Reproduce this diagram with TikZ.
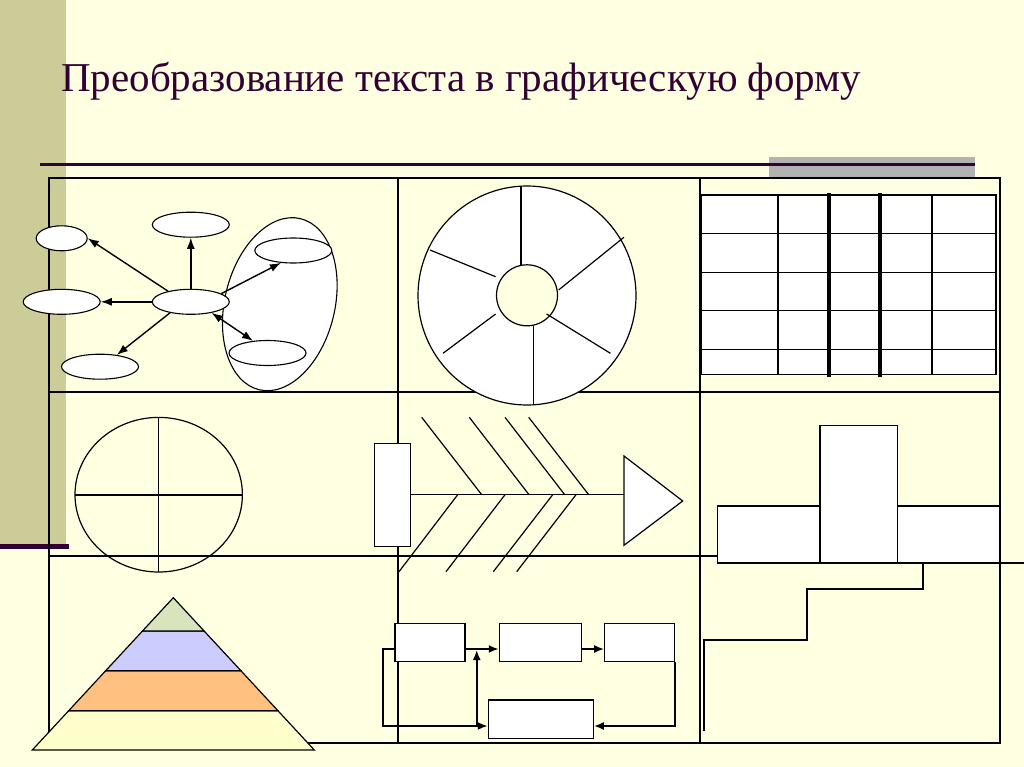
\documentclass[tikz,border=0pt]{standalone}
\usepackage{fontspec}
\setmainfont{Liberation Serif}
\usetikzlibrary{shapes.geometric,arrows.meta,positioning}
\definecolor{slidebg}{HTML}{FFFFE1}
\definecolor{bandcol}{HTML}{CCCC99}
\definecolor{darkplum}{HTML}{330033}
\definecolor{greybar}{HTML}{B2B2B2}
\definecolor{pyrtop}{HTML}{D7E4BD}
\definecolor{pyrmid}{HTML}{CCCCFF}
\definecolor{pyrlow}{HTML}{FFC080}
\definecolor{pyrbase}{HTML}{FFFFCC}

\begin{document}
\begin{tikzpicture}[x=1pt,y=-1pt,
   bubble/.style={ellipse,draw,fill=white,inner sep=0pt,minimum width=77pt,minimum height=25pt,line width=1.1pt},
   blk/.style={rectangle,draw,fill=white,inner sep=0pt,line width=1.1pt},
   cell/.style={line width=1.3pt},
   arr/.style={-{Latex[length=11pt,width=8pt]},line width=1.4pt},
   arrs/.style={{Latex[length=11pt,width=8pt]}-{Latex[length=11pt,width=8pt]},line width=1.4pt},
   flow/.style={-{Latex[length=10pt,width=8pt]},line width=1.8pt}]
   \useasboundingbox (0,0) rectangle (1024,767);
   % slide background
   \fill[slidebg] (0,0) rectangle (1024,767);
   \fill[bandcol] (0,0) rectangle (66,546);
   \fill[darkplum] (0,544) rectangle (69,549);
   \fill[greybar] (769,157) rectangle (975,178);
   \draw[darkplum,line width=3pt] (40,165) -- (975,165);
   \node[anchor=base west,text=darkplum,inner sep=0pt,font=\fontsize{41}{46}\selectfont] (title) at (61,92) {Преобразование текста в графическую форму};
   % frame and grid
   \draw[line width=1.8pt] (49,178) rectangle (1000,743);
   \draw[cell] (398,178) -- (398,743) (700,178) -- (700,743)
               (49,392) -- (1000,392) (49,556) -- (1000,556);
   % mind map
   \draw[fill=white,line width=1.1pt,rotate around={-13.6:(279.8,304.2)}] (279.8,304.2) ellipse [x radius=55, y radius=88];
   \node[bubble,minimum width=51pt] (m1) at (61.7,238.3) {};
   \node[bubble] (m2) at (190.8,224.7) {};
   \node[bubble] (m3) at (61.7,301.8) {};
   \node[bubble] (m0) at (190.8,301.8) {};
   \node[bubble] (m4) at (100,366.7) {};
   \node[bubble] (m5) at (293.3,250.5) {};
   \node[bubble] (m6) at (267.5,353) {};
   \draw[arr] (m0.155) -- (m1.east);
   \draw[arr] (m0.north) -- (m2.south);
   \draw[arr] (m0.west) -- (m3.east);
   \draw[arr] (m0.208) -- (m4.35);
   \draw[arr] (m0.15) -- (m5.225);
   \draw[arrs] (m0.332) -- (m6.140);
   % wheel
   \draw[fill=white,line width=1.2pt] (527,295.5) ellipse [x radius=109, y radius=109.5];
   \draw[fill=slidebg,line width=1.2pt] (527,295.3) circle [radius=30.5];
   \foreach \xa/\ya/\xb/\yb in {521/186/521/264.5, 430/250/495.6/276.7, 623.9/237.3/558.6/290,
                                 443/353.3/495.6/314, 546.6/314/610.4/353.3, 533.5/326/533.5/405}
      \draw[line width=1.2pt] (\xa,\ya) -- (\xb,\yb);
   % table
   \fill[white] (701,195) rectangle (996,374.3);
   \draw[cell] (701,195) rectangle (996,374.3);
   \foreach \yy in {233.3,272.3,310.7,349.3} \draw[cell] (701,\yy) -- (996,\yy);
   \foreach \xx in {778,932} \draw[cell] (\xx,195) -- (\xx,374.3);
   \foreach \xx in {829,880} \draw[line width=4pt] (\xx,193) -- (\xx,377);
   % quadrants
   \draw[line width=1.2pt] (158.7,494.7) ellipse [x radius=83.7, y radius=77.3];
   \draw[line width=1.2pt] (75,495) -- (242.4,495) (158.7,417.4) -- (158.7,572);
   % fishbone
   \node[blk,minimum width=35.6pt,minimum height=102.7pt] (head) at (392.5,494.7) {};
   \coordinate (tail) at (624,494.7);
   \draw[fill=white,line width=1.2pt] (624,456) -- (682.7,501) -- (624,545.3) -- cycle;
   \draw[line width=1.2pt] (head.east) -- (tail);
   \foreach \xa/\xb in {421.7/481.7, 469.3/529, 505/564.7, 528.7/588.7}
      \draw[line width=1.2pt] (\xa,417.3) -- (\xb,494.7);
   \foreach \xa/\xb in {457.7/399, 505/446, 552.7/493.3, 576/516.7}
      \draw[line width=1.2pt] (\xa,494.7) -- (\xb,571.7);
   % block scheme
   \node[blk,minimum width=70pt,minimum height=38.4pt] (b1) at (430,642.5) {};
   \node[blk,minimum width=82.4pt,minimum height=38.4pt] (b2) at (540.5,642.5) {};
   \node[blk,minimum width=70pt,minimum height=38.4pt] (b3) at (639.7,642.5) {};
   \node[blk,minimum width=105pt,minimum height=38.7pt] (b4) at (540.8,719.3) {};
   \coordinate (fork) at (476.7,726);
   \draw[flow] ([yshift=-6.5pt]b1.east) -- ([yshift=-6.5pt]b2.west);
   \draw[flow] ([yshift=-6.5pt]b2.east) -- ([yshift=-6.5pt]b3.west);
   \draw[flow] (b3.south east) |- ([yshift=-6.7pt]b4.east);
   \draw[flow] ([yshift=-6.5pt]b1.west) -- ++(-11.7,0) |- ([yshift=-6.7pt]b4.west);
   \draw[flow] (fork) -- (476.7,650);
   % bars and steps
   \draw[fill=white,line width=1.2pt] (717.3,506) rectangle (820,563);
   \draw[fill=white,line width=1.2pt] (820,425.7) rectangle (897.3,563);
   \draw[fill=white,line width=1.2pt] (897.3,506) rectangle (1000,563);
   \draw[line width=1.2pt] (1024,563) -- (923,563) -- (923,589) -- (807,589)
                          -- (807,640) -- (704,640) -- (704,731);
   % pyramid
   \draw[fill=pyrbase,line width=1.2pt] (68.7,710.7) -- (277.9,710.7) -- (314.3,750) -- (32.3,750) -- cycle;
   \draw[fill=pyrlow,line width=1.2pt] (105.7,670.7) -- (240.9,670.7) -- (277.9,710.7) -- (68.7,710.7) -- cycle;
   \draw[fill=pyrmid,line width=1.2pt] (142.5,631) -- (204.1,631) -- (240.9,670.7) -- (105.7,670.7) -- cycle;
   \draw[fill=pyrtop,line width=1.2pt] (173.3,597.7) -- (204.1,631) -- (142.5,631) -- cycle;
\end{tikzpicture}
\end{document}
